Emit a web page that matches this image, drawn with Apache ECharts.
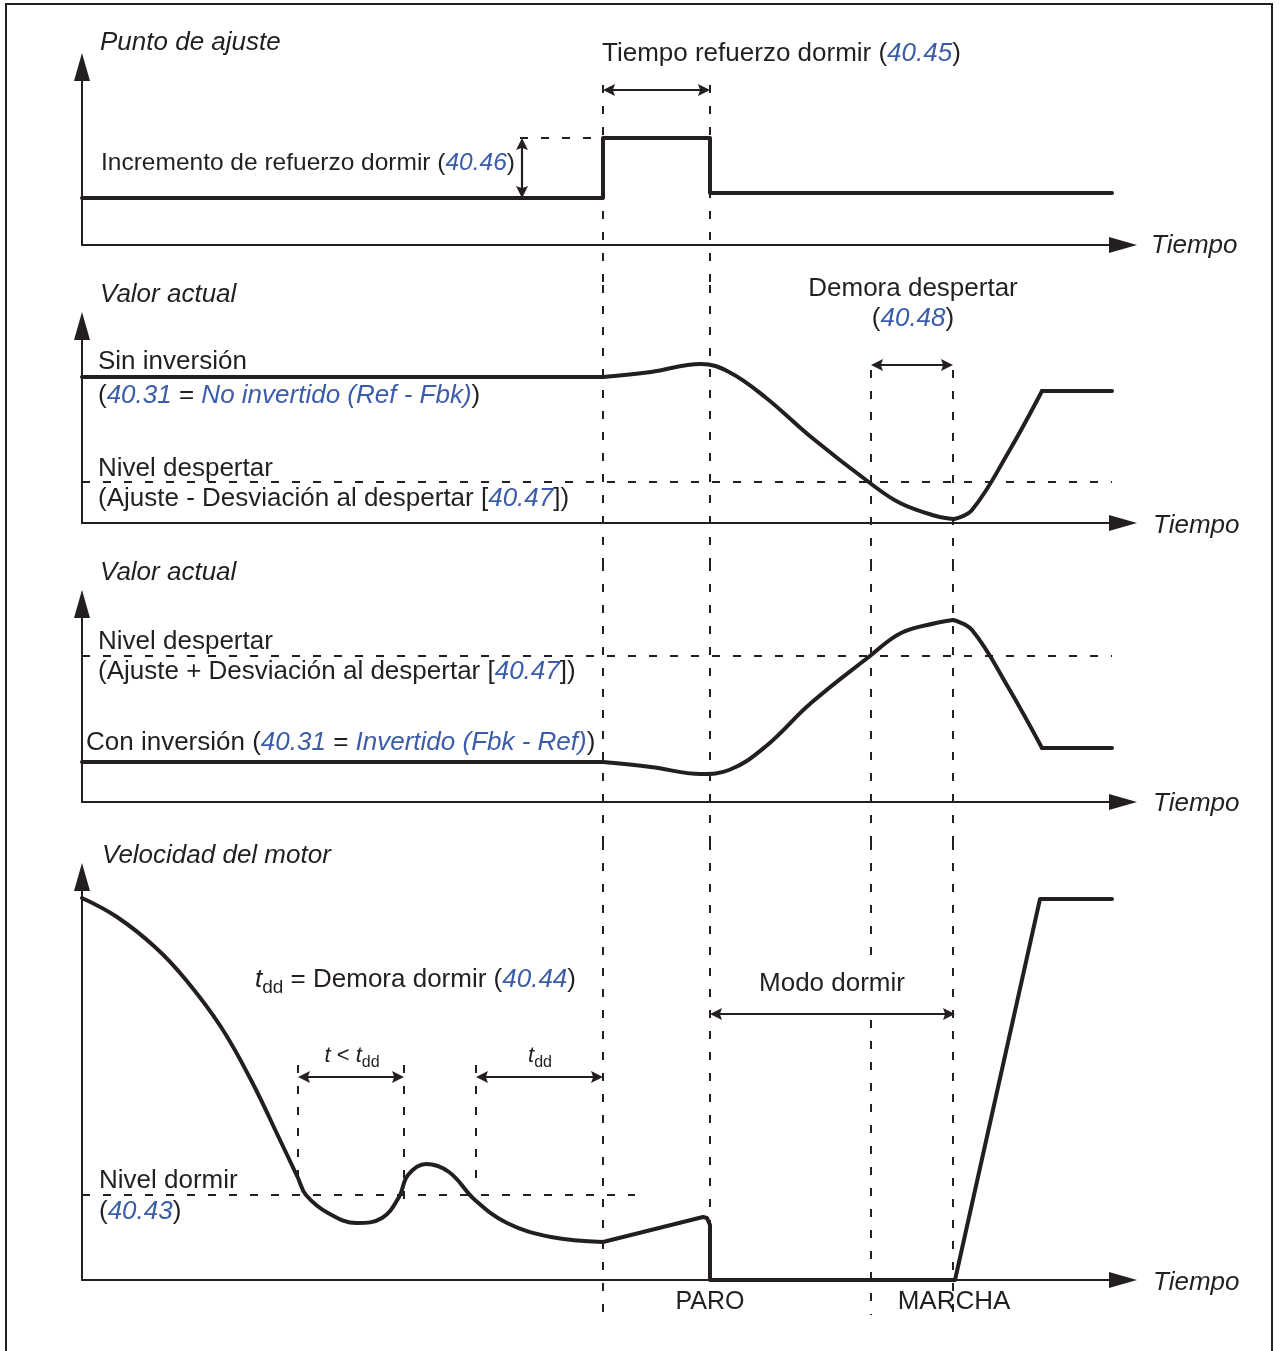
<!DOCTYPE html>
<html>
<head>
<meta charset="utf-8">
<title>Modo dormir</title>
<script src="https://cdn.jsdelivr.net/npm/echarts@6.0.0/dist/echarts.min.js"></script>
<style>
    html, body { margin: 0; padding: 0; background: #fff; }
    #main { width: 1279px; height: 1351px; }
</style>
</head>
<body>
<div id="main"></div>
<script>
//tiempo (t) y nivel (v)
//Punto de ajuste
var setpoint = [[0, 47], [521, 47], [521, 107], [628, 107], [628, 52], [1030, 52]];
//Valor actual, sin inversion
var fbkFlat = [[0, 146], [521, 146]];
var fbkFall = [[521, 146], [569, 151], [619, 159], [647, 151], [683, 126], [729, 86], [788, 40], [818, 20], [854, 7], [872, 4]];
var fbkRise = [[872, 4], [890, 13], [926, 70], [960, 132]];
var fbkEnd = [[960, 132], [1030, 132]];
//Valor actual, con inversion
var invFlat = [[0, 40], [521, 40]];
var invRise = [[521, 40], [569, 35], [619, 28], [647, 32], [683, 55], [729, 99], [788, 146], [819, 169], [854, 179], [871, 182]];
var invFall = [[871, 182], [890, 172], [926, 115], [960, 54]];
var invEnd = [[960, 54], [1030, 54]];
//Velocidad del motor
var speedDecay = [[0, 382], [35, 363], [73, 333], [104, 300], [139, 253], [169, 200], [198, 140], [216, 102], [224, 85], [246, 67], [275, 57], [300, 62], [317, 83], [326, 105], [344, 116], [367, 108], [393, 80], [425, 57], [469, 43], [521, 38]];
var speedSleep = [[521, 38], [621, 63], [625, 62], [627, 60], [628, 55], [628, 0], [873, 0], [958, 381], [1030, 381]];

//niveles de referencia
var boostLevel = 107;
var wakeLevelFbk = 41;
var wakeLevelInv = 146;
var sleepLevel = 85;

//instantes: refuerzo on / PARO, inicio demora / MARCHA, demora dormir
var boostTimes = [521, 628];
var wakeTimes = [789, 871];
var delayTimes = [216, 322, 394];

var INK = '#231f20';
var BLUE = '#3b5ca8';
var FONT = '"Liberation Sans", Arial, Helvetica, sans-serif';

var panels = [
    { top: 67, height: 178 },
    { top: 326, height: 197 },
    { top: 604, height: 198 },
    { top: 877, height: 403 }
];

var chart = echarts.init(document.getElementById('main'));

var sig = function (p, data, smooth) {
    return {
        type: 'line', xAxisIndex: p, yAxisIndex: p, data: data,
        smooth: smooth ? 0.4 : false, symbol: 'none', clip: false, silent: true, z: 5,
        lineStyle: { color: INK, width: 4, cap: 'round', join: 'round' }
    };
};

var dash = function (p, data) {
    return {
        type: 'line', xAxisIndex: p, yAxisIndex: p, data: data,
        symbol: 'none', clip: false, silent: true, z: 2,
        lineStyle: { color: INK, width: 2, type: [8, 13] }
    };
};

//flecha de cota con las puntas en los extremos
var dim = function (a, b) {
    var dx = b[0] - a[0], dy = b[1] - a[1];
    var len = Math.sqrt(dx * dx + dy * dy);
    var ux = dx / len * 6, uy = dy / len * 6;
    return [{ coord: [a[0] + ux, a[1] + uy] }, { coord: [b[0] - ux, b[1] - uy] }];
};

var withDims = function (s, dims) {
    s.markLine = {
        silent: true,
        symbol: 'path://M5 0 L10 11 L5 9 L0 11 Z',
        symbolSize: 12,
        label: { show: false },
        emphasis: { disabled: true },
        lineStyle: { color: INK, width: 2.2, type: 'solid' },
        data: dims
    };
    return s;
};

var series = [];

//panel 1
series.push(sig(0, setpoint, false));
series.push(withDims(dash(0, [[438, boostLevel], [boostTimes[0], boostLevel]]), [
    dim([boostTimes[0], 155], [boostTimes[1], 155]),
    dim([440, boostLevel], [440, setpoint[0][1]])
]));
boostTimes.forEach(function (t) { series.push(dash(0, [[t, 160], [t, -40]])); });

//panel 2
series.push(sig(1, fbkFlat, false));
series.push(sig(1, fbkFall, true));
series.push(sig(1, fbkRise, true));
series.push(sig(1, fbkEnd, false));
series.push(withDims(dash(1, [[0, wakeLevelFbk], [1030, wakeLevelFbk]]), [
    dim([wakeTimes[0], 158], [wakeTimes[1], 158])
]));
boostTimes.forEach(function (t) { series.push(dash(1, [[t, 238], [t, -40]])); });
wakeTimes.forEach(function (t) { series.push(dash(1, [[t, 153], [t, -40]])); });

//panel 3
series.push(sig(2, invFlat, false));
series.push(sig(2, invRise, true));
series.push(sig(2, invFall, true));
series.push(sig(2, invEnd, false));
series.push(dash(2, [[0, wakeLevelInv], [1030, wakeLevelInv]]));
boostTimes.concat(wakeTimes).forEach(function (t) { series.push(dash(2, [[t, 239], [t, -40]])); });

//panel 4
series.push(sig(3, speedDecay, true));
series.push(sig(3, speedSleep, false));
series.push(withDims(dash(3, [[0, sleepLevel], [553, sleepLevel]]), [
    dim([delayTimes[0], 203], [delayTimes[1], 203]),
    dim([delayTimes[2], 203], [boostTimes[0], 203]),
    dim([boostTimes[1], 266], [873, 266])
]));
series.push(dash(3, [[boostTimes[0], 438], [boostTimes[0], -35]]));
series.push(dash(3, [[boostTimes[1], 438], [boostTimes[1], 0]]));
series.push(dash(3, [[wakeTimes[0], 438], [wakeTimes[0], 320]]));
series.push(dash(3, [[wakeTimes[0], 260], [wakeTimes[0], -35]]));
series.push(dash(3, [[wakeTimes[1], 438], [wakeTimes[1], -35]]));
series.push(dash(3, [[delayTimes[0], 215], [delayTimes[0], 100]]));
series.push(dash(3, [[delayTimes[1], 215], [delayTimes[1], 80]]));
series.push(dash(3, [[delayTimes[2], 215], [delayTimes[2], 95]]));

var richStyles = function (size) {
    var lh = Math.round(size * 1.3);
    return {
        n: { fontSize: size, fontFamily: FONT, fill: INK, color: INK, lineHeight: lh },
        i: { fontSize: size, fontFamily: FONT, fontStyle: 'italic', fill: INK, color: INK, lineHeight: lh },
        b: { fontSize: size, fontFamily: FONT, fontStyle: 'italic', fill: BLUE, color: BLUE, lineHeight: lh },
        s: { fontSize: Math.round(size * 0.73), fontFamily: FONT, fill: INK, color: INK, lineHeight: Math.round(size * 0.75), verticalAlign: 'bottom' }
    };
};

var label = function (x, y, text, size, align) {
    return {
        type: 'text', x: x, y: y + 2, silent: true, z: 10,
        style: {
            text: text, rich: richStyles(size), font: size + 'px ' + FONT, fill: INK,
            align: align || 'left', verticalAlign: 'middle',
            textAlign: align || 'left', textVerticalAlign: 'middle'
        }
    };
};

var graphic = [
    { type: 'rect', silent: true, shape: { x: 6, y: 4, width: 1266, height: 1380 }, style: { fill: 'none', stroke: INK, lineWidth: 2 } },
    label(100, 41, '{i|Punto de ajuste}', 26),
    label(602, 52, '{n|Tiempo refuerzo dormir (}{b|40.45}{n|)}', 26),
    label(101, 161, '{n|Incremento de refuerzo dormir (}{b|40.46}{n|)}', 24.5),
    label(1151, 244, '{i|Tiempo}', 26),
    label(100, 293, '{i|Valor actual}', 26),
    label(913, 287, '{n|Demora despertar}', 26, 'center'),
    label(913, 317, '{n|(}{b|40.48}{n|)}', 26, 'center'),
    label(98, 360, '{n|Sin inversión}', 26),
    label(98, 394, '{n|(}{b|40.31}{n| = }{b|No invertido (Ref - Fbk)}{n|)}', 26),
    label(98, 467, '{n|Nivel despertar}', 26),
    label(98, 497, '{n|(Ajuste - Desviación al despertar [}{b|40.47}{n|])}', 26),
    label(1153, 524, '{i|Tiempo}', 26),
    label(100, 571, '{i|Valor actual}', 26),
    label(98, 640, '{n|Nivel despertar}', 26),
    label(98, 670, '{n|(Ajuste + Desviación al despertar [}{b|40.47}{n|])}', 26),
    label(86, 741, '{n|Con inversión (}{b|40.31}{n| = }{b|Invertido (Fbk - Ref)}{n|)}', 26),
    label(1153, 802, '{i|Tiempo}', 26),
    label(102, 854, '{i|Velocidad del motor}', 26),
    label(255, 978, '{i|t}{s|dd}{n| = Demora dormir (}{b|40.44}{n|)}', 26),
    label(352, 1054, '{i|t}{n| < }{i|t}{s|dd}', 22, 'center'),
    label(540, 1054, '{i|t}{s|dd}', 22, 'center'),
    label(832, 982, '{n|Modo dormir}', 26, 'center'),
    label(99, 1179, '{n|Nivel dormir}', 26),
    label(99, 1210, '{n|(}{b|40.43}{n|)}', 26),
    label(1153, 1281, '{i|Tiempo}', 26),
    label(710, 1300, '{n|PARO}', 25, 'center'),
    label(954, 1300, '{n|MARCHA}', 26, 'center')
];

var axisLine = {
    show: true, onZero: false,
    symbol: ['none', 'triangle'], symbolSize: [16, 28],
    lineStyle: { color: INK, width: 2 }
};

var option = {
    animation: false,
    backgroundColor: '#fff',
    tooltip: { show: false },
    grid: panels.map(function (p) {
        return { left: 82, width: 1041, top: p.top, height: p.height, containLabel: false, outerBoundsMode: 'none' };
    }),
    xAxis: panels.map(function (p, i) {
        return {
            type: 'value', gridIndex: i, min: 0, max: 1041,
            axisLine: axisLine, axisTick: { show: false }, axisLabel: { show: false }, splitLine: { show: false }
        };
    }),
    yAxis: panels.map(function (p, i) {
        return {
            type: 'value', gridIndex: i, min: 0, max: p.height,
            axisLine: axisLine, axisTick: { show: false }, axisLabel: { show: false }, splitLine: { show: false }
        };
    }),
    series: series,
    graphic: graphic
};

chart.setOption(option);
</script>
</body>
</html>
